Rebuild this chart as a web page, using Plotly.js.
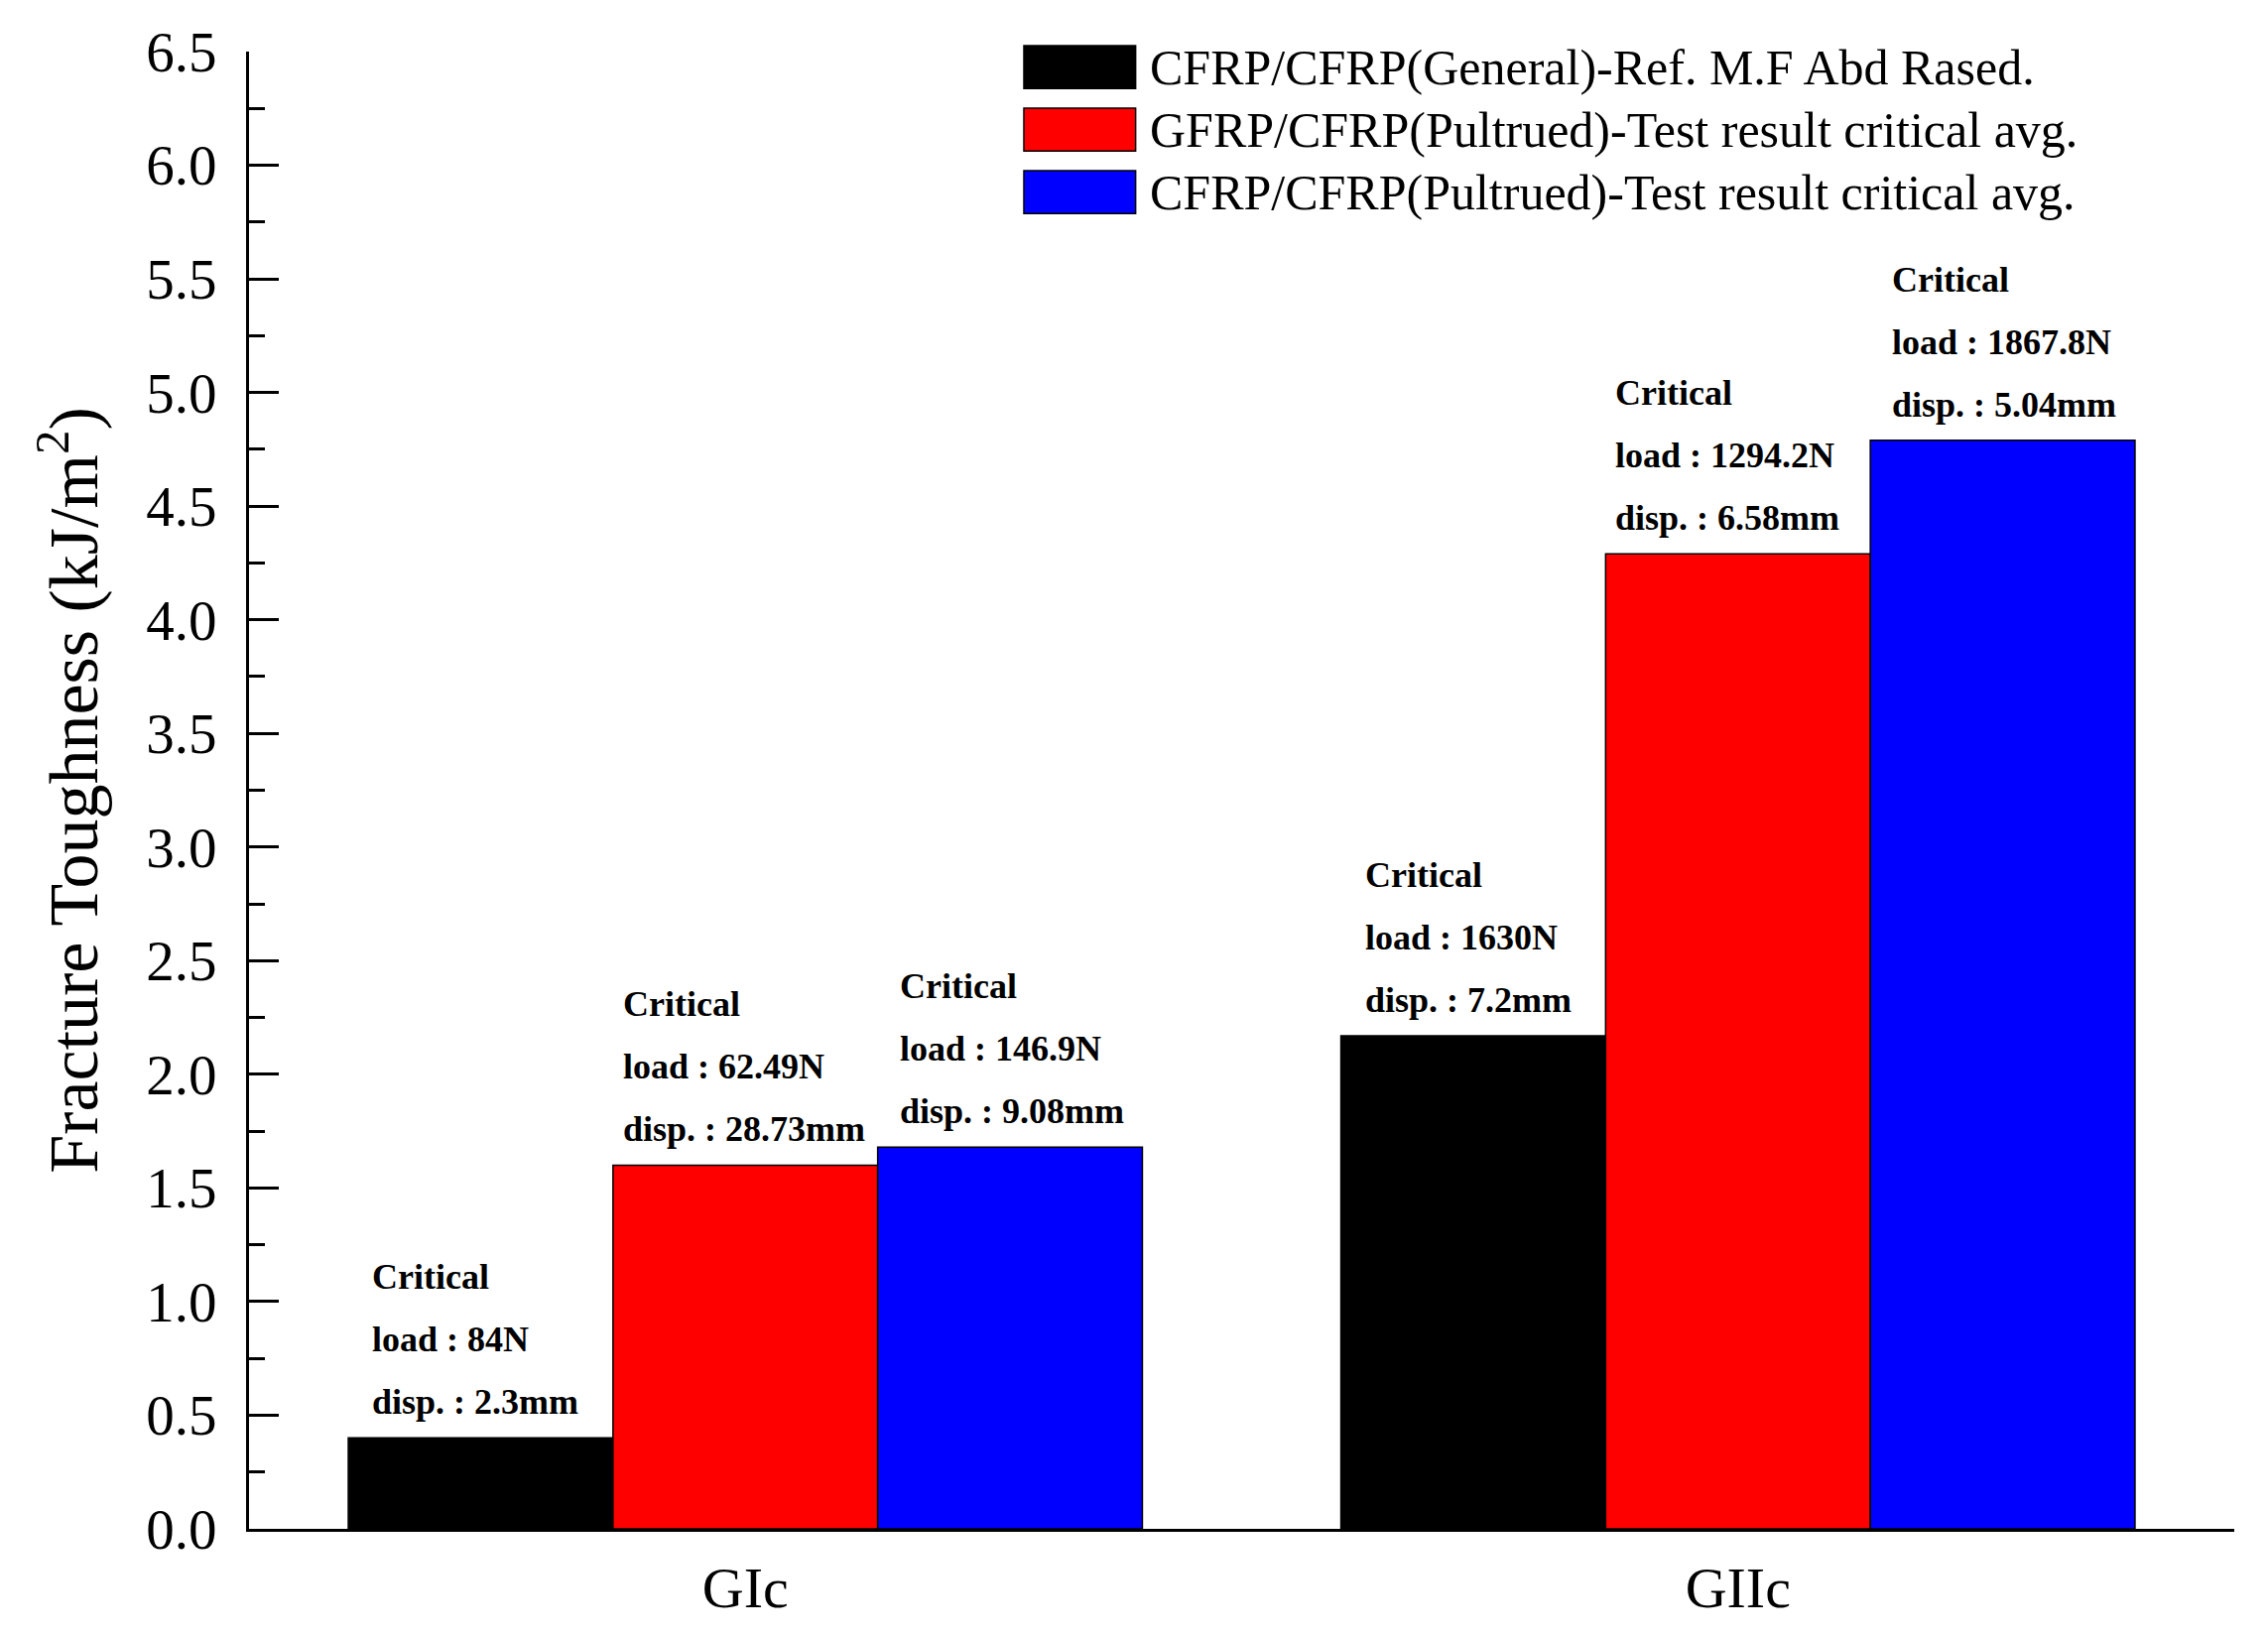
<!DOCTYPE html>
<html>
<head>
<meta charset="utf-8">
<script src="https://cdn.plot.ly/plotly-3.0.1.min.js"></script>
<style>html,body{margin:0;padding:0;background:#fff;}#chart{width:2286px;height:1650px;}</style>
</head>
<body>
<div id="chart"></div>
<script>
// ---- data ----
var categories = ['GIc', 'GIIc'];
var seriesNames = [
  'CFRP/CFRP(General)-Ref. M.F Abd Rased.',
  'GFRP/CFRP(Pultrued)-Test result critical avg.',
  'CFRP/CFRP(Pultrued)-Test result critical avg.'
];
var seriesColors = ['#000000', '#FF0000', '#0000FF'];
var refValues  = [0.40, 2.17];
var gfrpValues = [1.60, 4.29];
var cfrpValues = [1.68, 4.79];
var refLoads  = ['84N', '1630N'];
var gfrpLoads = ['62.49N', '1294.2N'];
var cfrpLoads = ['146.9N', '1867.8N'];
var refDisps  = ['2.3mm', '7.2mm'];
var gfrpDisps = ['28.73mm', '6.58mm'];
var cfrpDisps = ['9.08mm', '5.04mm'];
var yTickVals = [0,0.5,1,1.5,2,2.5,3,3.5,4,4.5,5,5.5,6,6.5];

var seriesValues = [refValues, gfrpValues, cfrpValues];
var seriesLoads = [refLoads, gfrpLoads, cfrpLoads];
var seriesDisps = [refDisps, gfrpDisps, cfrpDisps];
var labelShift = [22, 8, 20]; // style: horizontal offset of note text per series

var FONT = 'Liberation Serif, Times New Roman, serif';
var BARGAP = 0.2;
var nSeries = seriesValues.length;
var barW = (1 - BARGAP) / nSeries;

var traces = seriesValues.map(function (vals, i) {
  return {
    type: 'bar',
    name: seriesNames[i],
    x: categories,
    y: vals,
    marker: { color: seriesColors[i], line: { color: '#000', width: 1.5 } },
    showlegend: false,
    hoverinfo: 'x+y'
  };
});

var annotations = [];
var shapes = [];
seriesValues.forEach(function (vals, i) {
  vals.forEach(function (v, j) {
    var left = j + (i - (nSeries - 1) / 2) * barW - barW / 2;
    var lines = ['disp. : ' + seriesDisps[i][j], 'load : ' + seriesLoads[i][j], 'Critical'];
    lines.forEach(function (t, k) {
      annotations.push({
        xref: 'x', yref: 'y', x: left, y: v,
        xanchor: 'left', yanchor: 'bottom',
        xshift: labelShift[i], yshift: 14 + k * 63,
        text: '<b>' + t + '</b>', showarrow: false,
        font: { family: FONT, size: 36, color: '#000' }
      });
    });
  });
});

// custom legend (large swatches as in the reference)
seriesNames.forEach(function (name, i) {
  var top = 1.0040 - i * 0.0423;
  shapes.push({
    type: 'rect', xref: 'paper', yref: 'paper',
    x0: 0.3903, x1: 0.4466, y0: top - 0.0290, y1: top,
    fillcolor: seriesColors[i], line: { color: '#000', width: 1.5 }
  });
  annotations.push({
    xref: 'paper', yref: 'paper', x: 0.4528, y: top - 0.0145,
    xanchor: 'left', yanchor: 'middle', showarrow: false,
    text: name, font: { family: FONT, size: 50, color: '#000' }
  });
});

var layout = {
  width: 2286, height: 1650,
  margin: { l: 251, r: 34, t: 52, b: 109 },
  paper_bgcolor: '#fff', plot_bgcolor: '#fff',
  font: { family: FONT, color: '#000' },
  barmode: 'group', bargap: BARGAP, bargroupgap: 0,
  showlegend: false,
  xaxis: {
    type: 'category', range: [-0.5, 1.5],
    showline: true, linecolor: '#000', linewidth: 3,
    ticks: '', showgrid: false, zeroline: false,
    tickfont: { family: FONT, size: 58, color: '#000' },
    ticklabelstandoff: 6
  },
  yaxis: {
    range: [0, 6.5], tickvals: yTickVals, tickformat: '.1f',
    showline: true, linecolor: '#000', linewidth: 3,
    ticks: 'inside', ticklen: 30, tickwidth: 3, tickcolor: '#000',
    minor: { dtick: 0.25, ticks: 'inside', ticklen: 16, tickwidth: 3, tickcolor: '#000', showgrid: false },
    showgrid: false, zeroline: false,
    tickfont: { family: FONT, size: 57, color: '#000' },
    ticklabelstandoff: 18,
    title: { text: 'Fracture Toughness (kJ/m<sup>2</sup>)', font: { family: FONT, size: 70, color: '#000' }, standoff: 26 }
  },
  annotations: annotations,
  shapes: shapes
};

Plotly.newPlot('chart', traces, layout, { displayModeBar: false, staticPlot: true });
</script>
</body>
</html>
